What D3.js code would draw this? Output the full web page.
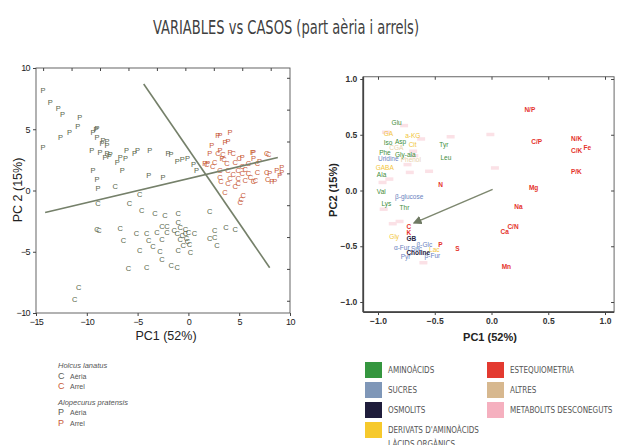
<!DOCTYPE html>
<html>
<head>
<meta charset="utf-8">
<style>
  body { margin: 0; background: #fff; }
  svg { display: block; }
  .title { font-family: "DejaVu Sans Condensed", "DejaVu Sans", sans-serif; font-stretch: condensed; font-size: 19px; fill: #3f3f3f; }
  .tick text { font-family: "Liberation Sans", Arial, sans-serif; }
  .lgcat { font-family: "DejaVu Sans Condensed", "DejaVu Sans", sans-serif; font-stretch: condensed; font-size: 8px; fill: #555; }
</style>
</head>
<body>
<svg width="617" height="445"></svg>
<script src="https://cdn.jsdelivr.net/npm/d3@7"></script>
<script>
// ---- left panel: cases (PC scores) ----
const holcusAeria = [[-7.2,0.3],[-4.8,-0.3],[-8.9,-1.1],[-5.8,-1.1],[-4.6,-1.6],[-3.3,-1.9],[-2.3,-2.0],[-1.0,-1.9],
  [2.1,-1.7],[-1.0,-2.6],[-2.6,-2.9],[-2.1,-2.9],[-0.8,-3.0],[-0.3,-3.2],[-8.8,-3.3],[-6.7,-3.1],[-5.1,-3.5],
  [-4.1,-3.5],[-3.1,-3.4],[-2.1,-3.4],[-1.1,-3.5],[-0.3,-3.5],[0.0,-3.4],[0.6,-3.5],[2.6,-3.3],[3.7,-3.0],
  [4.6,-3.2],[-6.4,-4.1],[-3.9,-4.1],[-2.6,-4.0],[-0.8,-4.0],[-0.1,-4.2],[2.1,-3.9],[2.6,-3.8],[2.8,-4.5],
  [-3.5,-4.6],[-0.5,-4.5],[-4.8,-4.9],[-2.8,-5.0],[-1.0,-4.9],[0.2,-5.1],[-2.6,-5.6],[-5.9,-6.4],[-4.1,-6.3],
  [-1.7,-6.1],[-1.1,-6.3],[-10.8,-7.9],[-11.2,-8.9],[-9.0,-3.2],[-0.6,-3.7],[-0.2,-3.9],[0.1,-4.4],[-1.4,-3.3]];
const holcusArrel = [[2.9,3.0],[3.4,2.9],[4.4,3.0],[7.7,3.0],[2.6,2.3],[3.8,2.2],[4.6,2.3],[5.3,2.0],[5.9,2.2],
  [6.8,2.2],[3.1,1.6],[3.9,1.6],[4.9,1.6],[5.6,1.7],[5.9,1.4],[5.3,1.4],[6.8,1.5],[7.7,1.5],[3.1,1.1],[4.1,1.0],
  [4.9,1.0],[5.6,0.8],[6.6,0.8],[3.9,0.6],[4.9,0.6],[6.4,0.7],[7.8,0.9],[3.6,-0.2],[5.4,-0.4],[5.2,-0.7],
  [5.1,-1.0],[2.4,2.0],[1.8,2.1],[7.9,2.9],[3.2,0.7],[4.4,1.3],[5.0,2.6],[6.1,1.1],[4.6,0.3],[3.5,2.5]];
const alopAeria = [[-14.3,8.2],[-13.6,7.2],[-12.8,6.7],[-12.4,6.2],[-10.7,6.0],[-10.9,5.2],[-11.7,4.7],[-12.6,4.3],
  [-14.3,3.5],[-9.0,5.1],[-9.1,5.0],[-9.4,4.7],[-9.0,4.3],[-8.4,4.1],[-8.0,4.0],[-8.5,3.8],[-8.0,3.7],[-9.5,3.3],
  [-8.7,3.1],[-8.0,3.0],[-8.2,2.7],[-7.7,2.9],[-7.0,2.3],[-6.7,2.7],[-6.2,2.6],[-6.1,3.3],[-5.3,3.0],[-5.0,3.3],
  [-3.8,3.3],[-2.0,3.0],[-1.7,2.9],[-1.1,2.4],[-0.6,2.5],[-0.1,2.6],[0.5,2.1],[0.8,1.6],[-9.4,1.6],[-6.5,1.6],
  [-3.9,1.2],[-2.5,1.1],[-8.9,0.2],[-9.0,0.9],[-7.8,2.8]];
const alopArrel = [[2.9,4.5],[4.1,4.7],[3.6,3.9],[3.9,4.0],[2.3,3.7],[2.1,3.0],[3.1,3.3],[4.1,3.1],[6.4,3.1],
  [1.6,2.2],[1.9,2.2],[3.3,2.6],[8.7,1.6],[9.0,1.2],[9.2,1.5],[8.5,0.7],[8.0,1.4],[7.0,2.4],[6.4,2.6],[5.3,2.7],
  [3.1,4.5],[9.2,1.9],[8.2,0.7],[6.3,3.1]];
const loadingLines = [[[-14.1,-1.8],[8.8,2.7]], [[-4.4,8.7],[8.0,-6.3]]];

// ---- right panel: variables (loadings) ----
const aminoacids = [["Glu",-0.88,0.61],["Asp",-0.85,0.44],["Iso",-0.95,0.43],["Tyr",-0.46,0.41],["Phe",-0.99,0.34],
  ["Gly-ala",-0.85,0.32],["Leu",-0.45,0.30],["Ala",-1.01,0.14],["Val",-1.01,-0.01],["Lys",-0.97,-0.12],["Thr",-0.81,-0.15]];
const sucres = [["Uridine",-1.0,0.29],["β-glucose",-0.85,-0.05],["β-Glc",-0.66,-0.48],["α-Fur",-0.86,-0.51],
  ["Suc",-0.71,-0.52],["β-Fur",-0.59,-0.58],["Pyr",-0.80,-0.59]];
const osmolits = [["GB",-0.75,-0.43],["Choline",-0.75,-0.56]];
const derivats = [["GA",-0.95,0.51],["a-KG",-0.76,0.49],["Cit",-0.73,0.41],["GABA",-1.02,0.21],["Gly",-0.9,-0.41],["Lac",-0.55,-0.53]];
const esteq = [["N/P",0.29,0.73],["C/P",0.35,0.44],["N/K",0.70,0.47],["C/K",0.70,0.36],["Fe",0.81,0.39],["P/K",0.70,0.17],
  ["N",-0.47,0.05],["Mg",0.33,0.03],["Na",0.20,-0.14],["C/N",0.14,-0.32],["Ca",0.08,-0.37],["Mn",0.09,-0.68],
  ["C",-0.75,-0.32],["K",-0.75,-0.38],["P",-0.47,-0.48],["S",-0.32,-0.52]];
const altres = [["CGA",-0.90,0.39],["Phenol",-0.80,0.28]];
const desconeguts = [[-0.77,0.58],[-0.62,0.46],[-0.36,0.48],[-0.01,0.50],[0.03,0.20],[-0.69,0.35],[-0.68,0.31],
  [-0.72,0.16],[-0.90,0.10],[-0.96,0.07],[-0.95,-0.17],[-0.87,-0.30],[-0.81,-0.28],[-0.60,-0.65],[-0.74,0.23],
  [-0.55,0.17],[-0.93,0.52]];
const arrow = [[0.01,0.01],[-0.68,-0.29]];

const legendCats = ["AMINOÀCIDS","SUCRES","OSMOLITS","DERIVATS D'AMINOÀCIDS","ESTEQUIOMETRIA","ALTRES","METABOLITS DESCONEGUTS"];
const legendCols = ["#35963f","#7f97b8","#1f1d3b","#f6c92c","#e33a30","#d7b88f","#f5b0bf"];

const svg = d3.select("svg");
const green = "#58664a", red = "#c85a36";

svg.append("text").attr("class","title").attr("x",286).attr("y",34).attr("text-anchor","middle")
  .attr("textLength",266).attr("lengthAdjust","spacingAndGlyphs")
  .text("VARIABLES vs CASOS  (part aèria i arrels)");

// left panel
const xL = d3.scaleLinear([-15,10],[36,290]);
const yL = d3.scaleLinear([-10,10],[313,68]);
const gl = svg.append("g");
gl.append("rect").attr("x",36).attr("y",68).attr("width",254).attr("height",245)
  .attr("fill","none").attr("stroke","#555").attr("stroke-width",0.9);
gl.append("g").attr("transform","translate(0,313)")
  .call(d3.axisBottom(xL).tickValues([-15,-10,-5,0,5,10]).tickSize(3).tickFormat(d3.format("d")));
gl.append("g").attr("transform","translate(36,0)")
  .call(d3.axisLeft(yL).tickValues([-10,-5,0,5,10]).tickSize(3).tickFormat(d3.format("d")));
gl.append("g").attr("transform","translate(0,68)")
  .call(d3.axisBottom(xL).tickValues(d3.range(-14.3,9.5,2.8)).tickSize(3).tickFormat(""));
gl.append("g").attr("transform","translate(290,0)")
  .call(d3.axisLeft(yL).tickValues(d3.range(-9,10,2.6)).tickSize(3).tickFormat(""));
gl.selectAll(".domain").remove();
gl.selectAll(".tick line").attr("stroke","#444");
gl.selectAll(".tick text").attr("font-size",9).attr("fill","#222").attr("letter-spacing","-0.6");

const drawLetters = (data, ch, col) => gl.append("g").selectAll("text").data(data).join("text")
  .attr("x", d => xL(d[0])).attr("y", d => yL(d[1]) + 2.5).attr("text-anchor","middle")
  .attr("font-family","Liberation Sans, Arial, sans-serif").attr("font-size",7.5).attr("fill",col).text(ch);
drawLetters(holcusAeria,"C",green);
drawLetters(alopAeria,"P",green);
drawLetters(holcusArrel,"C",red);
drawLetters(alopArrel,"P",red);

gl.append("g").selectAll("line").data(loadingLines).join("line")
  .attr("x1", d => xL(d[0][0])).attr("y1", d => yL(d[0][1]))
  .attr("x2", d => xL(d[1][0])).attr("y2", d => yL(d[1][1]))
  .attr("stroke","#75806a").attr("stroke-width",1.6);

gl.append("text").attr("x",166).attr("y",340).attr("text-anchor","middle")
  .attr("font-family","Liberation Sans, Arial, sans-serif").attr("font-size",12.5).attr("fill","#222").text("PC1 (52%)");
gl.append("text").attr("transform","translate(22,190) rotate(-90)").attr("text-anchor","middle")
  .attr("font-family","Liberation Sans, Arial, sans-serif").attr("font-size",12.5).attr("fill","#222").text("PC 2 (15%)");

// left legend
const lg = svg.append("g").attr("font-family","Liberation Sans, Arial, sans-serif");
const lgRows = [["Holcus lanatus",368,null,null],["Aèria",379,"C","#5d5d55"],["Arrel",389,"C",red],
  ["Alopecurus pratensis",405,null,null],["Aèria",415,"P","#5d5d55"],["Arrel",426,"P",red]];
lgRows.forEach(r => {
  if (r[2] === null) {
    lg.append("text").attr("x",58).attr("y",r[1]).attr("font-size",7.5).attr("font-style","italic").attr("fill","#555").text(r[0]);
  } else {
    lg.append("text").attr("x",58).attr("y",r[1]).attr("font-size",9).attr("fill",r[3]).text(r[2]);
    lg.append("text").attr("x",70).attr("y",r[1]).attr("font-size",7).attr("fill","#555").text(r[0]);
  }
});

// right panel
const xR = d3.scaleLinear([-1,1],[378,605]);
const yR = d3.scaleLinear([-1,1],[302,79]);
const gr = svg.append("g");
gr.append("rect").attr("x",xR(-1.13)).attr("y",yR(1.02)).attr("width",xR(1.08)-xR(-1.13)).attr("height",yR(-1.09)-yR(1.02))
  .attr("fill","none").attr("stroke","#555").attr("stroke-width",0.9);
const fmt = d3.format(".1f");
gr.append("g").attr("transform",`translate(0,${yR(-1.09)})`)
  .call(d3.axisBottom(xR).tickValues([-1,-0.5,0,0.5,1]).tickSize(3).tickFormat(fmt));
gr.append("g").attr("transform",`translate(${xR(-1.13)},0)`)
  .call(d3.axisLeft(yR).tickValues([-1,-0.5,0,0.5,1]).tickSize(3).tickFormat(fmt));
gr.append("g").attr("transform",`translate(0,${yR(1.02)})`)
  .call(d3.axisBottom(xR).tickValues([-1,-0.5,0,0.5,1]).tickSize(3).tickFormat(""));
gr.append("g").attr("transform",`translate(${xR(1.08)},0)`)
  .call(d3.axisLeft(yR).tickValues([-1,-0.5,0,0.5,1]).tickSize(3).tickFormat(""));
gr.selectAll(".domain").remove();
gr.append("line").attr("x1",xR(-1.13)).attr("x2",xR(-1.13)).attr("y1",yR(1.02)).attr("y2",yR(-1.09)).attr("stroke","#444").attr("stroke-width",1.8);
gr.append("line").attr("x1",xR(-1.13)).attr("x2",xR(1.08)).attr("y1",yR(-1.09)).attr("y2",yR(-1.09)).attr("stroke","#444").attr("stroke-width",1.8);
gr.selectAll(".tick line").attr("stroke","#444");
gr.selectAll(".tick text").attr("font-size",8.5).attr("fill","#333").attr("font-weight","bold");

gr.append("g").selectAll("rect").data(desconeguts).join("rect")
  .attr("x", d => xR(d[0]) - 4).attr("y", d => yR(d[1]) - 2).attr("width",8).attr("height",3.5)
  .attr("fill","#fbe1e6");

const drawVars = (data, col, bold, size) => gr.append("g").selectAll("text").data(data).join("text")
  .attr("x", d => xR(d[1])).attr("y", d => yR(d[2]) + 2.5).attr("text-anchor","start")
  .attr("font-family","Liberation Sans, Arial, sans-serif").attr("font-size",size)
  .attr("font-weight", bold ? "bold" : "normal").attr("fill",col).text(d => d[0]);
drawVars(altres,"#e8cfa8",false,6.5);
drawVars(aminoacids,"#3d8d3a",false,6.5);
drawVars(sucres,"#6a7fc0",false,6.5);
drawVars(osmolits,"#24213f",true,6.5);
drawVars(derivats,"#f2c53a",false,6.5);
drawVars(esteq,"#e5322b",true,6.5);

svg.append("defs").append("marker").attr("id","ah").attr("viewBox","0 0 10 10").attr("refX",8).attr("refY",5)
  .attr("markerWidth",6).attr("markerHeight",6).attr("orient","auto")
  .append("path").attr("d","M0,0L10,5L0,10z").attr("fill","#6f7a63");
gr.append("line").attr("x1",xR(arrow[0][0])).attr("y1",yR(arrow[0][1]))
  .attr("x2",xR(arrow[1][0])).attr("y2",yR(arrow[1][1]))
  .attr("stroke","#7d876f").attr("stroke-width",1.5).attr("marker-end","url(#ah)");

gr.append("text").attr("x",490).attr("y",341).attr("text-anchor","middle")
  .attr("font-family","Liberation Sans, Arial, sans-serif").attr("font-size",11).attr("font-weight","bold").attr("fill","#222").text("PC1 (52%)");
gr.append("text").attr("transform","translate(337,190) rotate(-90)").attr("text-anchor","middle")
  .attr("font-family","Liberation Sans, Arial, sans-serif").attr("font-size",11).attr("font-weight","bold").attr("fill","#222").text("PC2 (15%)");

// right legend
const cg = svg.append("g");
legendCats.forEach((c, i) => {
  const col = i < 4 ? 0 : 1, row = i < 4 ? i : i - 4;
  const x = col === 0 ? 365 : 487, y = 362 + row * 20;
  cg.append("rect").attr("x",x).attr("y",y).attr("width",17).attr("height",16).attr("fill",legendCols[i]);
  cg.append("text").attr("class","lgcat").attr("x",x + 23).attr("y",y + 11).text(c);
});
cg.append("text").attr("class","lgcat").attr("x",388).attr("y",447).text("I ÀCIDS ORGÀNICS");
</script>
</body>
</html>
